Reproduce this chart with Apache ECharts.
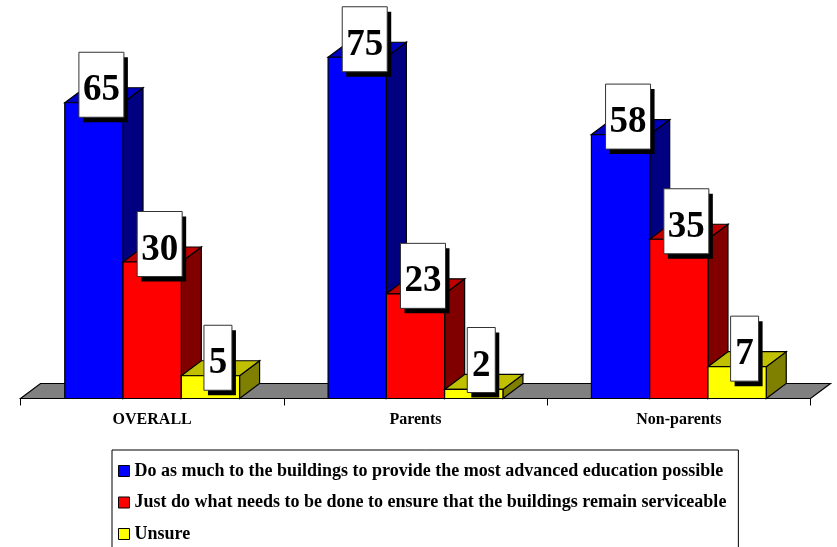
<!DOCTYPE html>
<html>
<head>
<meta charset="utf-8">
<style>
  html, body { margin: 0; padding: 0; background: #fff; }
  #chart { width: 837px; height: 547px; }
</style>
<script src="https://cdn.jsdelivr.net/npm/echarts@6/dist/echarts.min.js"></script>
</head>
<body>
<div id="chart"></div>
<script>
// values
const categories = ["OVERALL", "Parents", "Non-parents"];
const seriesNames = [
  "Do as much to the buildings to provide the most advanced education possible",
  "Just do what needs to be done to ensure that the buildings remain serviceable",
  "Unsure",
];
const advanced = [65, 75, 58];
const serviceable = [30, 23, 35];
const unsure = [5, 2, 7];

const FONT = '"Liberation Serif", "Times New Roman", serif';
// front / top / side shades per series
const SHADES = [
  ["#0000ff", "#0000c0", "#000080"],
  ["#ff0000", "#c00000", "#800000"],
  ["#ffff00", "#c0c000", "#808000"],
];
const DEPTH_X = 20;
const DEPTH_Y = 15;
const BAR_RATIO = 0.2213;

function barLeft(api, slot) {
  const band = api.size([1, 0])[0];
  const w = band * BAR_RATIO;
  return { x: api.coord([api.value(0), 0])[0] - 1.5 * w + slot * w, w: w };
}

// fake 3D column: side, top, then front face
function renderBar(slot) {
  return function (params, api) {
    const b = barLeft(api, slot);
    const x0 = b.x;
    const x1 = b.x + b.w;
    const yTop = api.coord([api.value(0), api.value(1)])[1];
    const yBase = api.coord([api.value(0), 0])[1];
    const line = { stroke: "#000", lineWidth: 1.2 };
    return {
      type: "group",
      children: [
        {
          type: "polygon",
          shape: { points: [[x1, yTop], [x1 + DEPTH_X, yTop - DEPTH_Y], [x1 + DEPTH_X, yBase - DEPTH_Y], [x1, yBase]] },
          style: Object.assign({ fill: SHADES[slot][2] }, line),
        },
        {
          type: "polygon",
          shape: { points: [[x0, yTop], [x0 + DEPTH_X, yTop - DEPTH_Y], [x1 + DEPTH_X, yTop - DEPTH_Y], [x1, yTop]] },
          style: Object.assign({ fill: SHADES[slot][1] }, line),
        },
        {
          type: "rect",
          shape: { x: x0, y: yTop, width: b.w, height: yBase - yTop },
          style: Object.assign({ fill: SHADES[slot][0] }, line),
        },
      ],
    };
  };
}

// white value card with a hard black shadow, kept clear of the axis
function renderCard(slot) {
  return function (params, api) {
    const b = barLeft(api, slot);
    const value = api.value(1);
    const yTop = api.coord([api.value(0), value])[1];
    const yBase = api.coord([api.value(0), 0])[1];
    const cx = b.x + b.w / 2 + 7.5;
    const cy = Math.min(yTop - 18, yBase - 38.5);
    const w = String(value).length > 1 ? 45 : 28;
    const h = 65;
    return {
      type: "group",
      children: [
        { type: "rect", shape: { x: cx - w / 2 + 4, y: cy - h / 2 + 5, width: w, height: h }, style: { fill: "#000" } },
        { type: "rect", shape: { x: cx - w / 2, y: cy - h / 2, width: w, height: h }, style: { fill: "#fff", stroke: "#333", lineWidth: 1 } },
        {
          type: "text",
          style: {
            x: cx, y: cy + 6, text: String(value), align: "center", verticalAlign: "middle",
            font: "bold 37px " + FONT, fill: "#000",
          },
        },
      ],
    };
  };
}

// grey floor under all the columns
function renderFloor(params, api) {
  const c = params.coordSys;
  const yBase = c.y + c.height;
  return {
    type: "polygon",
    shape: {
      points: [
        [c.x, yBase],
        [c.x + DEPTH_X, yBase - DEPTH_Y],
        [c.x + c.width + DEPTH_X, yBase - DEPTH_Y],
        [c.x + c.width, yBase],
      ],
    },
    style: { fill: "#808080", stroke: "#000", lineWidth: 1.2 },
  };
}

const allValues = [advanced, serviceable, unsure];
const toPoints = (vals) => vals.map((v, i) => [i, v]);

const chart = echarts.init(document.getElementById("chart"), null, { renderer: "canvas" });
chart.setOption({
  animation: false,
  backgroundColor: "#fff",
  grid: { left: 20.5, right: 26.5, top: 34.5, bottom: 148.5 },
  xAxis: {
    type: "category",
    data: categories,
    axisLine: { show: true, lineStyle: { color: "#000", width: 1 } },
    axisTick: { show: true, length: 7, lineStyle: { color: "#000", width: 1 } },
    axisLabel: { color: "#000", fontFamily: FONT, fontWeight: "bold", fontSize: 16, margin: 13 },
    z: 5,
  },
  yAxis: { type: "value", min: 0, max: 80, show: false },
  legend: {
    orient: "vertical",
    left: 112,
    top: 450,
    height: 130, // box runs off the bottom of the page, same as the source
    data: seriesNames,
    icon: "rect",
    itemWidth: 11,
    itemHeight: 11,
    itemGap: 13.5,
    padding: [12, 12, 8, 6],
    borderColor: "#000",
    borderWidth: 1,
    selectedMode: false,
    itemStyle: { borderColor: "#000", borderWidth: 1 },
    textStyle: { color: "#000", fontFamily: FONT, fontWeight: "bold", fontSize: 18 },
  },
  series: [
    { type: "custom", name: "floor", data: [[0, 0]], renderItem: renderFloor, z: 2 },
  ].concat(
    allValues.map((vals, i) => ({
      type: "custom",
      name: seriesNames[i],
      data: toPoints(vals),
      renderItem: renderBar(i),
      itemStyle: { color: SHADES[i][0] },
      z: 3,
    })),
    allValues.map((vals, i) => ({
      type: "custom",
      name: "card" + i,
      data: toPoints(vals),
      renderItem: renderCard(i),
      z: 6,
    }))
  ),
});
</script>
</body>
</html>
